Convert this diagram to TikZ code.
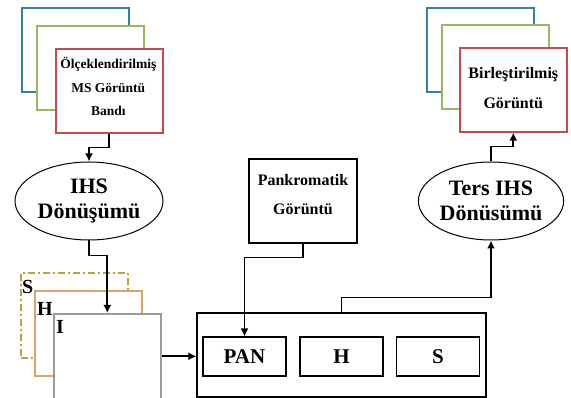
\documentclass[tikz,border=0pt]{standalone}
\usepackage{fontspec}
\setmainfont{Liberation Serif}
\usetikzlibrary{shapes.geometric,arrows.meta}
\definecolor{bandblue}{RGB}{49,132,160}
\definecolor{bandgreen}{RGB}{150,185,95}
\definecolor{bandred}{RGB}{195,75,75}
\definecolor{chanS}{RGB}{180,165,60}
\definecolor{chanH}{RGB}{215,165,100}
\definecolor{chanI}{RGB}{155,155,155}
\begin{document}
\begin{tikzpicture}
  [x=1pt,y=-1pt,
   band/.style={draw,fill=white,line width=1.6pt,minimum width=107pt,minimum height=84pt,anchor=north west,inner sep=0pt},
   dashdot/.style={dash pattern=on 7pt off 3pt on 2pt off 3pt},
   proc/.style={draw,ellipse,line width=1pt,minimum height=78pt,inner sep=0pt,align=center,font=\bfseries\fontsize{22}{25}\selectfont},
   box/.style={draw,line width=1.1pt,inner sep=0pt,align=center},
   tag/.style={anchor=north west,inner sep=0pt,font=\bfseries\fontsize{20}{20}\selectfont},
   link/.style={-{Latex[length=8pt,width=8pt]},line width=1.7pt}]
  \useasboundingbox (0,0) rectangle (571,398);
  \foreach \c/\dx/\dy/\n in {bandblue/0/0/a, bandgreen/15/18/b, bandred/34/41/c}
  \node[band,draw=\c] (ms\n) at (21+\dx,7+\dy) {};
  \node[align=center,font=\bfseries\fontsize{13.5}{23.5}\selectfont] (mstext) at ([shift={(-1pt,4pt)}]msc) {Ölçeklendirilmiş\\MS Görüntü\\Bandı};
  \foreach \c/\dx/\dy/\n in {bandblue/0/0/a, bandgreen/15/17/b, bandred/33/40/c}
  \node[band,draw=\c] (fus\n) at (426+\dx,7+\dy) {};
  \node[align=center,font=\bfseries\fontsize{16}{30}\selectfont] (fustext) at ([yshift=2pt]fusc) {Birleştirilmiş\\Görüntü};
  \node[proc,minimum width=148pt] (ihs) at (89,201) {IHS\\Dönüşümü};
  \node[proc,minimum width=140pt] (ters) at (491,201) {Ters IHS\\Dönüsümü};
  \node[box,minimum width=108pt,minimum height=84pt] (pank) at (303,201) {};
  \node[align=center,font=\bfseries\fontsize{16}{29}\selectfont] (panktext) at ([yshift=6pt]pank) {Pankromatik\\Görüntü};
  \foreach \c/\dx/\dy/\n/\s in {chanS/0/0/s/dashdot, chanH/14/18/h/solid, chanI/33/41/i/solid}
  \node[band,\s,draw=\c,minimum height=85pt] (ch\n) at (20+\dx,272+\dy) {};
  \node[tag] (labs) at ([shift={(2,8)}]chs.north west) {S};
  \node[tag] (labh) at ([shift={(3,12)}]chh.north west) {H};
  \node[tag] (labi) at ([shift={(3,7)}]chi.north west) {I};
  \node[box,minimum width=289pt,minimum height=84pt] (big) at (341.5,355) {};
  \foreach \x/\n/\t in {244.5/pan/PAN, 341.5/h/H, 438/s/S}
  \node[box,minimum width=83pt,minimum height=39pt,font=\bfseries\fontsize{21}{21}\selectfont] (\n) at (\x,356.5) {\t};
  \draw[link] (msc.south) -- ++(0,14) -| (ihs.north);
  \draw[link] (ihs.south) -- ++(0,15) -| (chi.north);
  \draw[link] (chi.east) -- (chi.east -| big.west);
  \draw[link] (pank.south) -- ++(0,14) -| (pan.north);
  \draw[link] (big.north) -- ++(0,-15) -| (ters.south);
  \draw[link] (ters.north) -- ++(0,-15) -| (fusc.south);
\end{tikzpicture}
\end{document}
